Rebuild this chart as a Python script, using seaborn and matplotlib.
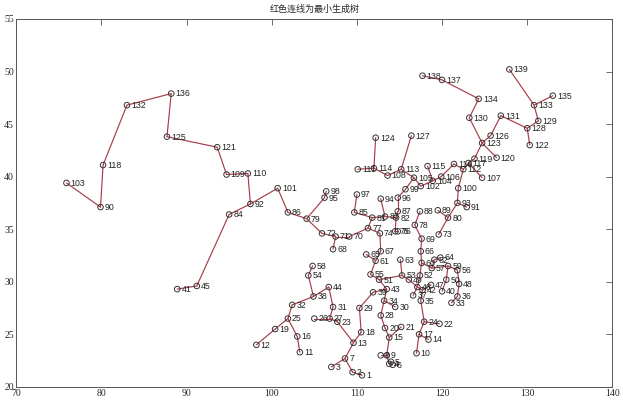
import numpy as np
import pandas as pd
import matplotlib
matplotlib.use("Agg")
import matplotlib.pyplot as plt
import seaborn as sns

# node coordinates (node id = position + 1)
node_x = [110.6, 109.5, 107.0, 113.8, 114.0, 114.2, 108.6, 112.8, 113.5, 117.0,
          103.3, 98.2, 109.6, 118.4, 113.8, 103.0, 117.3, 110.5, 100.4, 113.3,
          115.2, 119.7, 107.7, 117.9, 101.9, 105.0, 106.8, 112.8, 110.3, 114.5,
          107.2, 102.4, 121.1, 113.2, 117.5, 121.8, 116.6, 104.9, 111.9, 120.0,
          88.9, 117.7, 113.5, 106.7, 91.2, 117.1, 118.7, 122.0, 116.1, 120.5,
          112.6, 117.4, 115.3, 104.3, 111.6, 121.8, 118.8, 104.8, 120.7, 117.6,
          112.2, 119.1, 115.1, 119.8, 111.1, 117.5, 112.8, 107.2, 117.6, 109.1,
          107.5, 105.9, 119.6, 112.7, 114.5, 114.8, 111.3, 116.8, 104.1, 120.7,
          111.8, 114.6, 113.3, 95.0, 109.7, 101.9, 114.8, 117.4, 119.5, 79.9,
          122.9, 97.5, 121.8, 112.8, 106.2, 114.8, 110.0, 106.4, 115.7, 121.9,
          100.7, 117.5, 75.9, 118.9, 116.7, 119.9, 124.7, 113.6, 94.7, 97.2,
          110.1, 122.5, 115.2, 112.0, 118.3, 121.4, 123.1, 80.2, 123.8, 126.4,
          93.6, 130.3, 124.7, 112.2, 87.7, 125.7, 116.4, 130.0, 131.3, 123.2,
          126.9, 83.0, 130.8, 124.3, 133.0, 88.2, 120.0, 117.7, 127.9]
node_y = [21.1, 21.4, 21.9, 22.2, 22.4, 22.1, 22.7, 23.0, 23.0, 23.2,
          23.3, 24.0, 24.2, 24.5, 24.7, 24.8, 25.0, 25.2, 25.5, 25.6,
          25.7, 26.0, 26.2, 26.2, 26.5, 26.5, 26.5, 26.8, 27.5, 27.6,
          27.6, 27.8, 28.0, 28.2, 28.2, 28.6, 28.7, 28.6, 29.0, 29.1,
          29.3, 29.2, 29.3, 29.5, 29.6, 29.5, 29.7, 29.8, 30.2, 30.2,
          30.2, 30.6, 30.6, 30.6, 30.7, 31.1, 31.3, 31.5, 31.5, 31.8,
          32.0, 32.1, 32.1, 32.3, 32.6, 32.9, 32.9, 33.1, 34.1, 34.3,
          34.3, 34.6, 34.5, 34.6, 34.8, 34.8, 35.1, 35.4, 36.0, 36.1,
          36.1, 36.1, 36.2, 36.4, 36.6, 36.6, 36.7, 36.7, 36.8, 37.1,
          37.1, 37.4, 37.5, 37.9, 38.0, 38.0, 38.3, 38.6, 38.8, 38.9,
          38.9, 39.1, 39.4, 39.6, 39.9, 40.0, 39.9, 40.1, 40.2, 40.3,
          40.7, 40.7, 40.7, 40.8, 41.0, 41.2, 41.3, 41.1, 41.7, 41.8,
          42.8, 43.0, 43.2, 43.7, 43.8, 43.9, 43.9, 44.6, 45.3, 45.6,
          45.8, 46.8, 46.8, 47.4, 47.7, 47.9, 49.2, 49.6, 50.2]

# tree edges (pairs of node ids)
edge_from = [103, 90, 118, 132, 136, 125, 121, 109, 110, 92, 84, 45, 92, 101, 86,
             79, 95, 79, 72, 71, 71, 70, 77, 81, 85, 77, 74, 67, 61, 61,
             55, 51, 43, 39, 29, 18, 13, 23, 27, 27, 31, 44, 38, 38, 54,
             32, 25, 19, 25, 16, 13, 7, 7, 2, 43, 34, 34, 28, 20, 15,
             15, 9, 9, 4, 4, 51, 53, 53, 49, 46, 46, 42, 35, 24, 24,
             17, 17, 42, 46, 52, 60, 66, 69, 78, 60, 57, 62, 57, 59, 56,
             48, 36, 59, 50, 81, 83, 82, 87, 96, 99, 105, 113, 108, 114, 114,
             113, 82, 75, 105, 102, 104, 106, 116, 112, 117, 119, 123, 130, 134, 137,
             123, 123, 126, 131, 128, 128, 129, 133, 133, 112, 100, 93, 93, 80, 80,
             117, 104, 94]
edge_to = [90, 118, 132, 136, 125, 121, 109, 110, 92, 84, 45, 41, 101, 86, 79,
           95, 98, 72, 71, 68, 70, 77, 81, 85, 97, 74, 67, 61, 65, 55,
           51, 43, 39, 29, 18, 13, 23, 27, 26, 31, 44, 38, 32, 54, 58,
           25, 19, 12, 16, 11, 7, 3, 2, 1, 34, 30, 28, 20, 15, 21,
           9, 8, 4, 5, 6, 53, 63, 49, 46, 37, 42, 35, 24, 22, 17,
           14, 10, 47, 52, 60, 66, 69, 78, 88, 57, 62, 64, 59, 56, 48,
           36, 33, 50, 40, 83, 82, 87, 96, 99, 105, 113, 108, 114, 111, 124,
           127, 75, 76, 102, 104, 106, 116, 112, 117, 119, 123, 130, 134, 137, 138,
           120, 126, 131, 128, 122, 129, 133, 139, 135, 100, 93, 91, 80, 89, 73,
           107, 115, 83]

nodes = pd.DataFrame({"x": node_x, "y": node_y,
                      "label": [str(i + 1) for i in range(len(node_x))]})

seg_rows = []
for k, (a, b) in enumerate(zip(edge_from, edge_to)):
    seg_rows.append({"edge": k, "step": 0, "x": node_x[a - 1], "y": node_y[a - 1]})
    seg_rows.append({"edge": k, "step": 1, "x": node_x[b - 1], "y": node_y[b - 1]})
segs = pd.DataFrame(seg_rows)

sns.set_style("white")
plt.rcParams["font.family"] = ["Liberation Sans", "DejaVu Sans"]

fig = plt.figure(figsize=(6.23, 4.03), dpi=100)
ax = fig.add_axes([0.026, 0.040, 0.957, 0.913])

sns.lineplot(data=segs, x="x", y="y", units="edge", estimator=None, sort=False,
             color="#a83c48", linewidth=0.85, ax=ax, legend=False)
sns.scatterplot(data=nodes, x="x", y="y", marker="o", s=16, facecolor="none",
                edgecolor="#333333", linewidth=0.7, ax=ax, legend=False, zorder=3)

for _, r in nodes.iterrows():
    ax.annotate(r["label"], (r["x"], r["y"]), xytext=(3.0, -0.3),
                textcoords="offset points", va="center", ha="left",
                fontsize=6.3, color="#222222")

ax.set_xlim(70, 140)
ax.set_ylim(20, 55)
ax.set_xticks(range(70, 141, 10))
ax.set_yticks(range(20, 56, 5))
ax.set_xlabel("")
ax.set_ylabel("")
ax.tick_params(direction="in", length=4, width=0.6, color="#555555",
               top=True, right=True, labelsize=7, pad=1.5)
for lab in ax.get_xticklabels() + ax.get_yticklabels():
    lab.set_family("Liberation Serif")
for sp in ax.spines.values():
    sp.set_color("#555555")
    sp.set_linewidth(0.7)

ax.set_title("红色连线为最小生成树", fontsize=6.5, pad=5,
             family=["Noto Sans CJK SC", "DejaVu Sans"])

fig.savefig("out.png", dpi=100, facecolor="white")
